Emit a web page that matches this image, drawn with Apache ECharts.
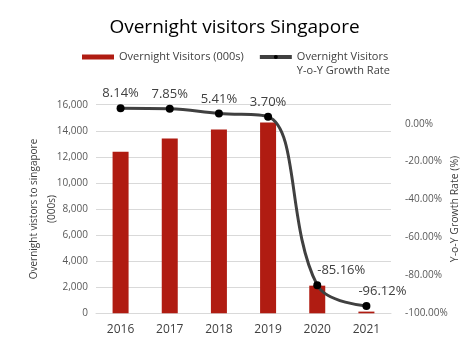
<!DOCTYPE html>
<html>
<head>
<meta charset="utf-8">
<script src="https://cdn.jsdelivr.net/npm/echarts@6.0.0/dist/echarts.min.js"></script>
<style>
    html, body { margin: 0; padding: 0; background: #fff; }
    #chart { width: 469px; height: 353px; }
</style>
</head>
<body>
<div id="chart"></div>
<script>
// data
const years = ["2016", "2017", "2018", "2019", "2020", "2021"];
const visitors = [12400, 13400, 14100, 14640, 2120, 130];
const growth = [8.14, 7.85, 5.41, 3.70, -85.16, -96.12];
const labelShift = [[0, 0], [0, 0], [0, 0], [0, 0], [24, 0], [16, 0]];

const barName = "Overnight Visitors (000s)";
const lineName = "Overnight Visitors\nY-o-Y Growth Rate";
const font = "'Open Sans', 'Noto Sans', sans-serif";
const chart = echarts.init(document.getElementById("chart"));

chart.setOption({
    animation: false,
    textStyle: { fontFamily: font },
    title: {
        text: "Overnight visitors Singapore",
        left: "center",
        top: 13,
        textStyle: { fontFamily: font, fontWeight: "normal", fontSize: 19, color: "#000" },
    },
    legend: {
        top: 31,
        left: 77,
        itemGap: 14,
        itemWidth: 32,
        itemHeight: 5,
        textStyle: { fontFamily: font, fontSize: 11, color: "#404040", lineHeight: 14 },
        // blank first line keeps the icon level with the first text line
        formatter: (name) => (name === lineName ? "\n" + name : name),
        data: [
            { name: barName, icon: "rect" },
            { name: lineName, lineStyle: { color: "#404040", width: 4 } },
        ],
    },
    grid: { left: 96, right: 78, top: 104.7, bottom: 39.7 },
    xAxis: {
        type: "category",
        data: years,
        axisTick: { show: false },
        axisLine: { lineStyle: { color: "#d9d9d9" } },
        axisLabel: { fontSize: 12, color: "#404040", margin: 10 },
    },
    yAxis: [
        {
            type: "value",
            min: 0,
            max: 16000,
            interval: 2000,
            name: "Overnight vistors to singapore\n(000s)",
            nameLocation: "middle",
            nameGap: 35,
            nameMoveOverlap: false,
            nameTextStyle: { fontSize: 10, color: "#404040", lineHeight: 18 },
            axisLabel: {
                fontSize: 10,
                color: "#595959",
                formatter: (v) => v.toLocaleString("en-US"),
            },
            splitLine: { lineStyle: { color: "#d9d9d9" } },
        },
        {
            type: "value",
            min: -100,
            max: 10,
            interval: 20,
            position: "right",
            name: "Y-o-Y Growth Rate (%)",
            nameLocation: "middle",
            nameGap: 59,
            nameMoveOverlap: false,
            nameRotate: 90,
            nameTextStyle: { fontSize: 10.5, color: "#404040" },
            axisLabel: {
                fontSize: 10,
                color: "#595959",
                margin: 14,
                showMaxLabel: false,
                formatter: (v) => (v > 0 ? "" : v.toFixed(2) + "%"),
            },
            splitLine: { show: false },
        },
    ],
    series: [
        {
            name: barName,
            type: "bar",
            data: visitors,
            barWidth: 16,
            itemStyle: { color: "#b01c12" },
        },
        {
            name: lineName,
            type: "line",
            yAxisIndex: 1,
            smooth: 0.4,
            data: growth.map((v, i) => ({
                value: v,
                label: { offset: labelShift[i] },
            })),
            symbol: "circle",
            symbolSize: 8,
            lineStyle: { color: "#404040", width: 3 },
            itemStyle: { color: "#000" },
            label: {
                show: true,
                position: "top",
                distance: 4,
                fontSize: 13,
                color: "#404040",
                formatter: (p) => p.value.toFixed(2) + "%",
            },
        },
    ],
});
</script>
</body>
</html>
